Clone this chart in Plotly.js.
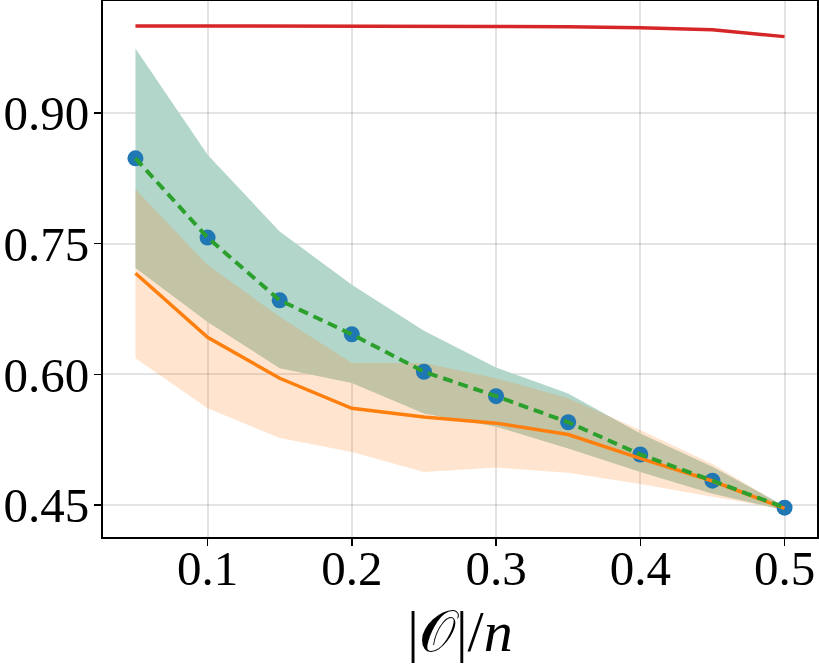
<!DOCTYPE html>
<html>
<head>
<meta charset="utf-8">
<script src="https://cdn.plot.ly/plotly-3.0.1.min.js"></script>
<style>
html,body{margin:0;padding:0;background:#fff;}
#chart{width:819px;height:664px;}
</style>
</head>
<body>
<div id="chart"></div>
<script>
const fracOutliers = [0.05, 0.10, 0.15, 0.20, 0.25, 0.30, 0.35, 0.40, 0.45, 0.50];

const redLine = [1.000, 1.000, 1.000, 0.9998, 0.9995, 0.9993, 0.9990, 0.9980, 0.9955, 0.9877];

const greenMean = [0.848, 0.757, 0.685, 0.646, 0.603, 0.575, 0.545, 0.508, 0.478, 0.447];
const greenUpper = [0.974, 0.852, 0.764, 0.703, 0.650, 0.608, 0.578, 0.532, 0.494, 0.449];
const greenLower = [0.722, 0.660, 0.607, 0.590, 0.555, 0.540, 0.515, 0.488, 0.463, 0.444];

const orangeMean = [0.716, 0.6425, 0.5955, 0.561, 0.551, 0.544, 0.531, 0.5036, 0.4776, 0.4462];
const orangeUpper = [0.8125, 0.7255, 0.666, 0.613, 0.613, 0.5955, 0.5725, 0.536, 0.497, 0.448];
const orangeLower = [0.6185, 0.561, 0.527, 0.511, 0.488, 0.493, 0.487, 0.474, 0.4595, 0.445];

const xTickVals = [0.1, 0.2, 0.3, 0.4, 0.5];
const xTickText = ['0.1', '0.2', '0.3', '0.4', '0.5'];
const yTickVals = [0.45, 0.60, 0.75, 0.90];
const yTickText = ['0.45', '0.60', '0.75', '0.90'];

const traces = [
  {x: fracOutliers, y: greenLower, mode: 'lines', line: {width: 0, color: 'rgba(0,0,0,0)'}, hoverinfo: 'skip', showlegend: false},
  {x: fracOutliers, y: greenUpper, mode: 'lines', line: {width: 0, color: 'rgba(0,0,0,0)'}, fill: 'tonexty', fillcolor: 'rgb(179,214,203)', hoverinfo: 'skip', showlegend: false},
  {x: fracOutliers, y: orangeLower, mode: 'lines', line: {width: 0, color: 'rgba(0,0,0,0)'}, hoverinfo: 'skip', showlegend: false},
  {x: fracOutliers, y: orangeUpper, mode: 'lines', line: {width: 0, color: 'rgba(0,0,0,0)'}, fill: 'tonexty', fillcolor: 'rgba(255,127,14,0.2)', hoverinfo: 'skip', showlegend: false},
  {x: fracOutliers, y: redLine, mode: 'lines', line: {width: 3.5, color: '#d62728'}, showlegend: false},
  {x: fracOutliers, y: greenMean, mode: 'markers', marker: {size: 16, color: '#1f77b4'}, showlegend: false},
  {x: fracOutliers, y: orangeMean, mode: 'lines', line: {width: 3.5, color: '#ff7f0e'}, showlegend: false},
  {x: fracOutliers, y: greenMean, mode: 'lines', line: {width: 4, color: '#2ca02c', dash: '10px,6px'}, showlegend: false}
];

const tickFont = {family: 'Liberation Serif, DejaVu Serif, serif', size: 49, color: '#000'};

const layout = {
  width: 819,
  height: 664,
  margin: {l: 103, r: 2, t: 1, b: 127},
  paper_bgcolor: '#fff',
  plot_bgcolor: '#fff',
  showlegend: false,
  xaxis: {
    range: [0.0275, 0.5225],
    tickvals: xTickVals,
    ticktext: xTickText,
    ticks: 'outside',
    ticklen: 7,
    tickwidth: 1.5,
    tickcolor: '#000',
    ticklabelstandoff: -20,
    showgrid: true,
    gridcolor: 'rgba(0,0,0,0.11)',
    gridwidth: 2,
    zeroline: false,
    showline: true,
    linecolor: '#000',
    linewidth: 2,
    mirror: true,
    tickfont: tickFont,
    title: {text: '|𝒪|/<i>n</i>', font: {family: 'Liberation Serif, DejaVu Serif, serif', size: 58, color: '#000'}, standoff: 16}
  },
  yaxis: {
    range: [0.4133, 1.0286],
    tickvals: yTickVals,
    ticktext: yTickText,
    ticks: 'outside',
    ticklen: 7,
    tickwidth: 1.5,
    tickcolor: '#000',
    ticklabelstandoff: -5,
    showgrid: true,
    gridcolor: 'rgba(0,0,0,0.11)',
    gridwidth: 2,
    zeroline: false,
    showline: true,
    linecolor: '#000',
    linewidth: 2,
    mirror: true,
    tickfont: tickFont
  }
};

Plotly.newPlot('chart', traces, layout, {displayModeBar: false, staticPlot: true});
</script>
</body>
</html>
